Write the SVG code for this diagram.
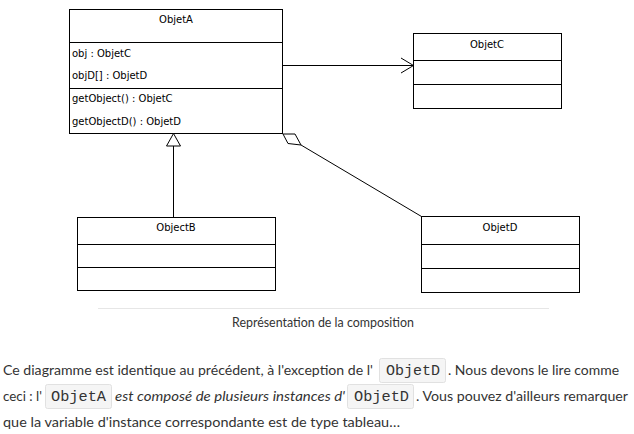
<svg xmlns="http://www.w3.org/2000/svg" width="634" height="434" viewBox="0 0 634 434">
<style>
.box{fill:#fff;stroke:#000;stroke-width:1}
.div{stroke:#000;stroke-width:1}
.uml{font-family:"DejaVu Sans",sans-serif;font-size:10px;fill:#000}
.ttl{text-anchor:middle}
.cn{stroke:#000;stroke-width:1;fill:none}
.p{font-family:Lato,"Liberation Sans",sans-serif;font-size:14.2px;fill:#333}
.it{font-style:italic}
.code{font-family:"Liberation Mono",monospace;font-size:15px;fill:#333}
.cbox{fill:#f5f5f5;stroke:#e1e1e1;stroke-width:1}
</style>
<rect width="634" height="434" fill="#fff"/>
<g id="ObjetA">
<rect class="box" x="69.5" y="9.5" width="213" height="124"/>
<line class="div" x1="69.5" y1="42.5" x2="282.5" y2="42.5"/>
<line class="div" x1="69.5" y1="88.5" x2="282.5" y2="88.5"/>
<text class="uml ttl" x="176" y="23">ObjetA</text>
<text class="uml" x="72" y="57">obj : ObjetC</text>
<text class="uml" x="72" y="79">objD[] : ObjetD</text>
<text class="uml" x="72" y="102">getObject() : ObjetC</text>
<text class="uml" x="72" y="125">getObjectD() : ObjetD</text>
</g>
<g id="ObjetC">
<rect class="box" x="413.5" y="33.5" width="148" height="75"/>
<line class="div" x1="413.5" y1="60.5" x2="561.5" y2="60.5"/>
<line class="div" x1="413.5" y1="84.5" x2="561.5" y2="84.5"/>
<text class="uml ttl" x="487" y="48">ObjetC</text>
</g>
<g id="ObjectB">
<rect class="box" x="77.5" y="217.5" width="198" height="73"/>
<line class="div" x1="77.5" y1="244.5" x2="275.5" y2="244.5"/>
<line class="div" x1="77.5" y1="267.5" x2="275.5" y2="267.5"/>
<text class="uml ttl" x="176" y="231">ObjectB</text>
</g>
<g id="ObjetD">
<rect class="box" x="421.5" y="216.5" width="158" height="76"/>
<line class="div" x1="421.5" y1="244.5" x2="579.5" y2="244.5"/>
<line class="div" x1="421.5" y1="268.5" x2="579.5" y2="268.5"/>
<text class="uml ttl" x="500" y="231">ObjetD</text>
</g>
<g id="connectors">
<line class="cn" x1="282.5" y1="65.5" x2="413.5" y2="65.5"/>
<polyline class="cn" points="401,58 413.5,65.5 401,73"/>
<line class="cn" x1="173.5" y1="146" x2="173.5" y2="217.5"/>
<polygon class="cn" points="173.5,133.5 180.5,146 166.5,146" style="fill:#fff"/>
<polygon class="cn" points="283,134 295,134 301,145 288,143.5"/>
<line class="cn" x1="301" y1="145" x2="421.5" y2="216.5"/>
</g>
<g id="caption">
<line x1="98" y1="308.5" x2="549" y2="308.5" stroke="#e6e6e6" stroke-width="1"/>
<text x="323" y="327" text-anchor="middle" font-family="Lato,'Liberation Sans',sans-serif" font-size="13" fill="#333" textLength="182" lengthAdjust="spacingAndGlyphs">Représentation de la composition</text>
</g>
<g id="paragraph">
<rect class="cbox" x="379.5" y="358.5" width="66" height="24" rx="2"/>
<rect class="cbox" x="45.5" y="384.5" width="66" height="24" rx="2"/>
<rect class="cbox" x="347.5" y="384.5" width="66" height="24" rx="2"/>
<text class="p" x="3" y="375" textLength="370" lengthAdjust="spacingAndGlyphs">Ce diagramme est identique au précédent, à l'exception de l'</text>
<text class="code" x="386" y="375" textLength="54" lengthAdjust="spacingAndGlyphs">ObjetD</text>
<text class="p" x="448" y="375" textLength="171" lengthAdjust="spacingAndGlyphs">. Nous devons le lire comme</text>
<text class="p" x="3" y="401" textLength="39" lengthAdjust="spacingAndGlyphs">ceci : l'</text>
<text class="code" x="51" y="401" textLength="55" lengthAdjust="spacingAndGlyphs">ObjetA</text>
<text class="p it" x="115" y="401" textLength="230" lengthAdjust="spacingAndGlyphs">est composé de plusieurs instances d'</text>
<text class="code" x="354" y="401" textLength="55" lengthAdjust="spacingAndGlyphs">ObjetD</text>
<text class="p" x="416" y="401" textLength="212" lengthAdjust="spacingAndGlyphs">. Vous pouvez d'ailleurs remarquer</text>
<text class="p" x="3" y="427" textLength="397" lengthAdjust="spacingAndGlyphs">que la variable d'instance correspondante est de type tableau…</text>
</g>
</svg>
